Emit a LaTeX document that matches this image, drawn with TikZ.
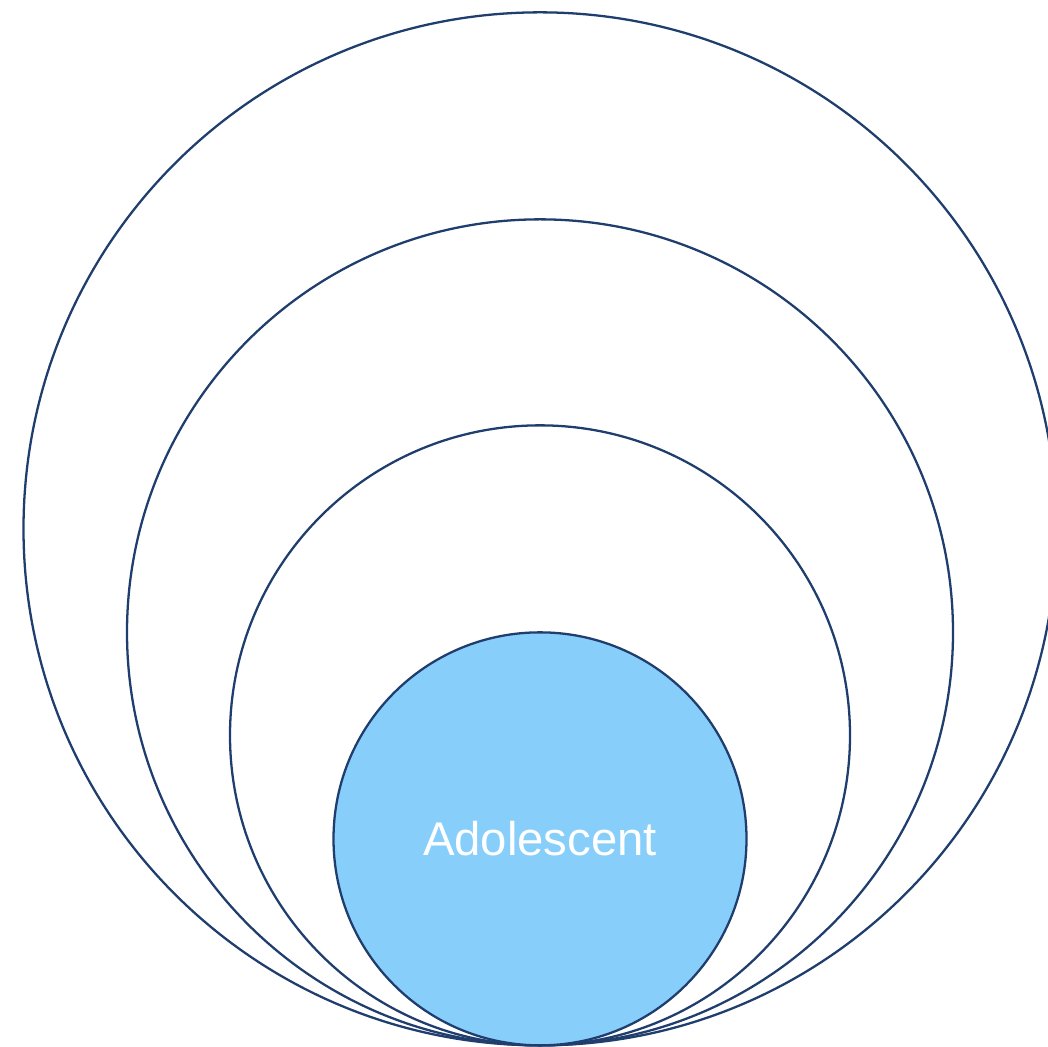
\documentclass[tikz,border=0pt]{standalone}
\usepackage{fontspec}
\setmainfont{Liberation Sans}
\definecolor{ringblue}{HTML}{1F3E6E}
\definecolor{skyfill}{HTML}{87CFFA}

\tikzset{ring/.style = {circle, draw = ringblue, line width = 1.3pt,
                        inner sep = 0pt, anchor = south, minimum size = #1},
         ring/.default = 8cm,
         core/.style = {ring = #1, fill = skyfill, text = white,
                        font = \fontsize{26.9}{32}\selectfont}
        }

\begin{document}
\begin{tikzpicture}
  \useasboundingbox (0,0) rectangle (20.96,-20.94);
  \clip (0,0) rectangle (20.96,-20.94);
  \coordinate (touch) at (10.8,-20.93);
  \node[ring = 20.66cm] (society) at (touch) {};
  \node[ring = 16.52cm] (community) at (touch) {};
  \node[ring = 12.40cm] (family) at (touch) {};
  \node[core = 8.26cm] (adolescent) at (touch) {Adolescent};
\end{tikzpicture}
\end{document}
